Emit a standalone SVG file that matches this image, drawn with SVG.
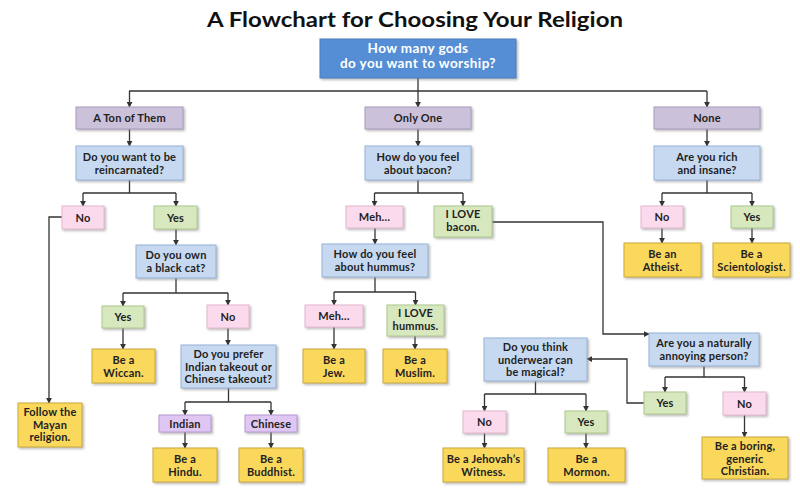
<svg xmlns="http://www.w3.org/2000/svg" width="800" height="496" viewBox="0 0 800 496">
<defs>
<filter id="sh" x="-10%" y="-10%" width="130%" height="140%">
<feDropShadow dx="1.5" dy="1.5" stdDeviation="0.8" flood-color="#808080" flood-opacity="0.55"/>
</filter>
<marker id="ar" viewBox="0 0 8 8" refX="7" refY="4" markerWidth="6" markerHeight="6" orient="auto" markerUnits="userSpaceOnUse">
<path d="M0,0 L8,4 L0,8 z" fill="#333"/>
</marker>
<style>
rect{filter:url(#sh);stroke-width:1}
.top{fill:#558ed5;stroke:#4a7ebb}
.cat{fill:#ccc1da;stroke:#a89cbc}
.q{fill:#c6d9f1;stroke:#95b3d7}
.no{fill:#fcdaee;stroke:#e4b8cf}
.yes{fill:#d7e8bf;stroke:#aec88c}
.res{fill:#fad85c;stroke:#c9a93a}
.vi{fill:#dfc6f3;stroke:#b59ad3}
text{font-family:Lato,"Open Sans","Liberation Sans",sans-serif;font-weight:bold;font-size:11px;letter-spacing:0.2px;fill:#222;text-anchor:middle}
.tw{fill:#fff;font-size:13.5px;letter-spacing:0.4px}
.title{font-size:21px;fill:#111;letter-spacing:0}
#connectors path{fill:none;stroke:#333;stroke-width:1.3}
.a{marker-end:url(#ar)}
</style>
</defs>
<rect x="0" y="0" width="800" height="496" fill="#fff" style="filter:none"/>
<text class="title" x="415" y="27" textLength="416" lengthAdjust="spacingAndGlyphs">A Flowchart for Choosing Your Religion</text>

<g id="connectors">
<path class="a" d="M418,78 V107"/>
<path d="M129,91 H707"/>
<path class="a" d="M129.5,91 V107"/>
<path class="a" d="M707,91 V107"/>
<path class="a" d="M129.5,129 V146"/>
<path class="a" d="M418,129 V146"/>
<path class="a" d="M707,129 V146"/>
<path d="M129.5,180 V193 M83,193 H176"/>
<path class="a" d="M83,193 V206"/>
<path class="a" d="M176,193 V206"/>
<path class="a" d="M62,217 H49 V403"/>
<path class="a" d="M176,229 V245"/>
<path d="M418,180 V193 M374.5,193 H463"/>
<path class="a" d="M374.5,193 V206"/>
<path class="a" d="M463,193 V206"/>
<path d="M707,180 V193 M662,193 H752"/>
<path class="a" d="M662,193 V206"/>
<path class="a" d="M752,193 V206"/>
<path class="a" d="M662,228 V243"/>
<path class="a" d="M752,228 V243"/>
<path class="a" d="M375,228 V244"/>
<path class="a" d="M492,222 H603 V334 H649"/>
<path d="M176,278 V293 M123,293 H228"/>
<path class="a" d="M123,293 V306"/>
<path class="a" d="M228,293 V305"/>
<path d="M375,277 V292 M334,292 H415.5"/>
<path class="a" d="M334,292 V305"/>
<path class="a" d="M415.5,292 V305"/>
<path class="a" d="M123,328 V349"/>
<path class="a" d="M228,328 V345"/>
<path class="a" d="M334,327 V349"/>
<path class="a" d="M415,336 V349"/>
<path d="M704,366 V377 M665,377 H744.5"/>
<path class="a" d="M665,377 V392"/>
<path class="a" d="M744.5,377 V392"/>
<path class="a" d="M644,403 H627 V359 H587"/>
<path class="a" d="M744.5,415 V437"/>
<path d="M535.5,381 V394 M484.5,394 H586"/>
<path class="a" d="M484.5,394 V411"/>
<path class="a" d="M586,394 V411"/>
<path class="a" d="M484.5,433 V448"/>
<path class="a" d="M586,433 V448"/>
<path d="M228.5,388 V402 M185,402 H271"/>
<path class="a" d="M185,402 V415"/>
<path class="a" d="M271,402 V415"/>
<path class="a" d="M185,432 V448"/>
<path class="a" d="M271,432 V448"/>
</g>

<g id="n-start"><rect class="top" x="320" y="39" width="196" height="39"/><text class="tw" x="418" y="53">How many gods</text><text class="tw" x="418" y="68">do you want to worship?</text></g>
<g id="n-ton"><rect class="cat" x="76" y="107" width="107" height="22"/><text x="129.5" y="122">A Ton of Them</text></g>
<g id="n-one"><rect class="cat" x="365" y="107" width="106" height="22"/><text x="418" y="122">Only One</text></g>
<g id="n-none"><rect class="cat" x="654" y="107" width="106" height="22"/><text x="707" y="122">None</text></g>
<g id="n-reinc"><rect class="q" x="76" y="146" width="107" height="34"/><text x="129.5" y="161">Do you want to be</text><text x="129.5" y="174">reincarnated?</text></g>
<g id="n-bacon"><rect class="q" x="365" y="146" width="106" height="34"/><text x="418" y="161">How do you feel</text><text x="418" y="174">about bacon?</text></g>
<g id="n-rich"><rect class="q" x="654" y="146" width="106" height="34"/><text x="707" y="161">Are you rich</text><text x="707" y="174">and insane?</text></g>
<g id="n-reinc-no"><rect class="no" x="62" y="206" width="42" height="23"/><text x="83" y="221.5">No</text></g>
<g id="n-reinc-yes"><rect class="yes" x="154" y="206" width="43" height="23"/><text x="175.5" y="221.5">Yes</text></g>
<g id="n-bacon-meh"><rect class="no" x="346" y="206" width="57" height="22"/><text x="374.5" y="221">Meh…</text></g>
<g id="n-bacon-love"><rect class="yes" x="434" y="206" width="58" height="31"/><text x="463" y="218">I  LOVE</text><text x="463" y="231">bacon.</text></g>
<g id="n-rich-no"><rect class="no" x="641" y="206" width="42" height="22"/><text x="662" y="221">No</text></g>
<g id="n-rich-yes"><rect class="yes" x="731" y="206" width="42" height="22"/><text x="752" y="221">Yes</text></g>
<g id="n-atheist"><rect class="res" x="624" y="243" width="77" height="34"/><text x="662.5" y="258">Be an</text><text x="662.5" y="271">Atheist.</text></g>
<g id="n-scientologist"><rect class="res" x="713" y="243" width="77" height="34"/><text x="751.5" y="258">Be a</text><text x="751.5" y="271">Scientologist.</text></g>
<g id="n-cat"><rect class="q" x="136" y="245" width="80" height="33"/><text x="176" y="259">Do you own</text><text x="176" y="272">a black cat?</text></g>
<g id="n-hummus"><rect class="q" x="322" y="244" width="106" height="33"/><text x="375" y="258">How do you feel</text><text x="375" y="271">about hummus?</text></g>
<g id="n-cat-yes"><rect class="yes" x="102" y="306" width="42" height="22"/><text x="123" y="321">Yes</text></g>
<g id="n-cat-no"><rect class="no" x="207" y="305" width="42" height="23"/><text x="228" y="320.5">No</text></g>
<g id="n-hummus-meh"><rect class="no" x="305" y="305" width="58" height="22"/><text x="334" y="320">Meh…</text></g>
<g id="n-hummus-love"><rect class="yes" x="387" y="305" width="57" height="31"/><text x="415.5" y="317">I  LOVE</text><text x="415.5" y="330">hummus.</text></g>
<g id="n-annoying"><rect class="q" x="649" y="333" width="110" height="33"/><text x="704" y="347">Are you a naturally</text><text x="704" y="360">annoying person?</text></g>
<g id="n-underwear"><rect class="q" x="484" y="338" width="103" height="43"/><text x="535.5" y="351">Do you think</text><text x="535.5" y="363.5">underwear can</text><text x="535.5" y="376">be magical?</text></g>
<g id="n-takeout"><rect class="q" x="181" y="345" width="95" height="43"/><text x="228.5" y="358">Do you prefer</text><text x="228.5" y="370.5">Indian takeout or</text><text x="228.5" y="383">Chinese takeout?</text></g>
<g id="n-wiccan"><rect class="res" x="92" y="349" width="63" height="34"/><text x="123.5" y="364">Be a</text><text x="123.5" y="377">Wiccan.</text></g>
<g id="n-jew"><rect class="res" x="303" y="349" width="62" height="34"/><text x="334" y="364">Be a</text><text x="334" y="377">Jew.</text></g>
<g id="n-muslim"><rect class="res" x="383" y="349" width="64" height="34"/><text x="415" y="364">Be a</text><text x="415" y="377">Muslim.</text></g>
<g id="n-annoying-yes"><rect class="yes" x="644" y="392" width="42" height="22"/><text x="665" y="407">Yes</text></g>
<g id="n-annoying-no"><rect class="no" x="723" y="392" width="43" height="23"/><text x="744.5" y="407.5">No</text></g>
<g id="n-mayan"><rect class="res" x="18" y="403" width="64" height="44"/><text x="50" y="416">Follow the</text><text x="50" y="428.5">Mayan</text><text x="50" y="441">religion.</text></g>
<g id="n-uw-no"><rect class="no" x="463" y="411" width="43" height="22"/><text x="484.5" y="426">No</text></g>
<g id="n-uw-yes"><rect class="yes" x="565" y="411" width="42" height="22"/><text x="586" y="426">Yes</text></g>
<g id="n-indian"><rect class="vi" x="159" y="415" width="52" height="17"/><text x="185" y="427.5">Indian</text></g>
<g id="n-chinese"><rect class="vi" x="245" y="415" width="52" height="17"/><text x="271" y="427.5">Chinese</text></g>
<g id="n-christian"><rect class="res" x="702" y="437" width="86" height="42"/><text x="745" y="450">Be a boring,</text><text x="745" y="462.5">generic</text><text x="745" y="475">Christian.</text></g>
<g id="n-hindu"><rect class="res" x="153" y="448" width="64" height="34"/><text x="185" y="463">Be a</text><text x="185" y="476">Hindu.</text></g>
<g id="n-buddhist"><rect class="res" x="239" y="448" width="64" height="34"/><text x="271" y="463">Be a</text><text x="271" y="476">Buddhist.</text></g>
<g id="n-jehovah"><rect class="res" x="443" y="448" width="81" height="34"/><text x="483.5" y="463">Be a Jehovah’s</text><text x="483.5" y="476">Witness.</text></g>
<g id="n-mormon"><rect class="res" x="548" y="448" width="77" height="34"/><text x="586.5" y="463">Be a</text><text x="586.5" y="476">Mormon.</text></g>
</svg>
